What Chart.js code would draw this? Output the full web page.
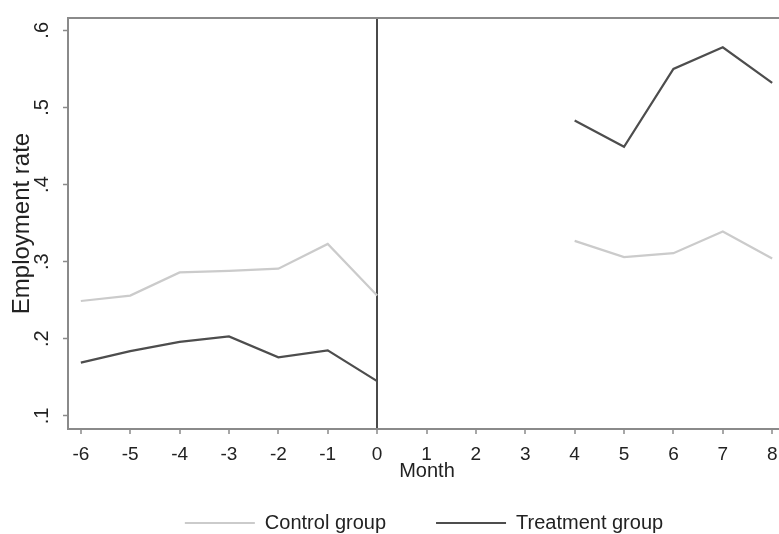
<!DOCTYPE html>
<html>
<head>
<meta charset="utf-8">
<script src="https://cdn.jsdelivr.net/npm/chart.js@4"></script>
<style>
  html, body { margin: 0; padding: 0; background: #fff; overflow: hidden; }
  #wrap { position: relative; width: 848px; height: 534px; }
</style>
</head>
<body>
<div id="wrap"><canvas id="empChart"></canvas></div>
<script>
const months = [-6, -5, -4, -3, -2, -1, 0, 1, 2, 3, 4, 5, 6, 7, 8];
const controlRate = [0.249, 0.256, 0.286, 0.288, 0.291, 0.323, 0.256, null, null, null, 0.327, 0.306, 0.311, 0.339, 0.304];
const treatmentRate = [0.169, 0.184, 0.196, 0.203, 0.176, 0.185, 0.145, null, null, null, 0.483, 0.449, 0.550, 0.578, 0.532];
const xTicks = [-6, -5, -4, -3, -2, -1, 0, 1, 2, 3, 4, 5, 6, 7, 8];
const yTicks = [0.1, 0.2, 0.3, 0.4, 0.5, 0.6];

const FONT = 'Liberation Sans, Arial, sans-serif';
const TEXT = '#222';
const FRAME = '#8a8a8a';

// frame on top / right like stata's plot region
const framePlugin = {
    id: 'frame',
    afterDatasetsDraw(chart) {
        const { ctx, chartArea: a } = chart;
        ctx.save();
        ctx.strokeStyle = FRAME;
        ctx.lineWidth = 2;
        ctx.beginPath();
        ctx.moveTo(a.left, a.top);
        ctx.lineTo(a.right, a.top);
        ctx.lineTo(a.right, a.bottom);
        ctx.stroke();
        ctx.restore();
    }
};

function toPoints(vals) {
    return months.map((m, i) => ({ x: m, y: vals[i] }));
}

const ctx = document.getElementById('empChart').getContext('2d');
new Chart(ctx, {
    type: 'line',
    data: {
        datasets: [
            {
                label: 'Control group',
                data: toPoints(controlRate),
                borderColor: '#cbcbcb',
                backgroundColor: '#cbcbcb',
                borderWidth: 2.2,
                pointRadius: 0,
                tension: 0
            },
            {
                label: 'Treatment group',
                data: toPoints(treatmentRate),
                borderColor: '#4d4d4d',
                backgroundColor: '#4d4d4d',
                borderWidth: 2.2,
                pointRadius: 0,
                tension: 0
            }
        ]
    },
    options: {
        responsive: true,
        maintainAspectRatio: false,
        animation: false,
        layout: { padding: { top: 18, bottom: -9, left: 0, right: 0 } },
        scales: {
            x: {
                type: 'linear',
                min: -6.26,
                max: 8.28,
                afterBuildTicks: s => { s.ticks = xTicks.map(v => ({ value: v })); },
                afterFit: s => { s.height = 34; },
                border: { display: true, color: FRAME, width: 2 },
                grid: {
                    drawOnChartArea: true,
                    color: c => (c.tick && c.tick.value === 0 ? '#4a4a4a' : 'rgba(0,0,0,0)'),
                    lineWidth: 2,
                    tickColor: FRAME,
                    tickWidth: 1.5,
                    tickLength: 5
                },
                ticks: {
                    autoSkip: false,
                    maxRotation: 0,
                    padding: 9,
                    color: TEXT,
                    font: { family: FONT, size: 19 }
                },
                title: {
                    display: true,
                    text: 'Month',
                    color: TEXT,
                    font: { family: FONT, size: 20 },
                    padding: { top: 0, bottom: -20 }
                }
            },
            y: {
                min: 0.083,
                max: 0.616,
                afterBuildTicks: s => { s.ticks = yTicks.map(v => ({ value: v })); },
                afterFit: s => {
                    s.width = 68;
                    s.paddingTop = 0;
                    s.paddingBottom = 0;
                },
                border: { display: true, color: FRAME, width: 2 },
                grid: {
                    drawOnChartArea: false,
                    tickColor: FRAME,
                    tickWidth: 1.5,
                    tickLength: 5
                },
                ticks: {
                    minRotation: 90,
                    maxRotation: 90,
                    crossAlign: 'center',
                    padding: 12,
                    color: TEXT,
                    font: { family: FONT, size: 20 },
                    callback: v => String(v).replace(/^0/, '')
                },
                title: {
                    display: true,
                    text: 'Employment rate',
                    color: TEXT,
                    font: { family: FONT, size: 24 },
                    padding: { top: 8, bottom: 4 }
                }
            },
            yR: {
                type: 'linear',
                position: 'right',
                display: true,
                afterFit: s => { s.width = 62; },
                border: { display: false },
                grid: { display: false },
                ticks: { display: false }
            }
        },
        plugins: {
            legend: {
                position: 'bottom',
                labels: {
                    boxWidth: 70,
                    boxHeight: 2,
                    padding: 50,
                    color: TEXT,
                    font: { family: FONT, size: 20 },
                    // thin line samples instead of outlined boxes
                    generateLabels: chart => Chart.defaults.plugins.legend.labels.generateLabels(chart)
                        .map(item => Object.assign(item, { lineWidth: 0 }))
                }
            },
            tooltip: { enabled: false }
        }
    },
    plugins: [framePlugin]
});
</script>
</body>
</html>
